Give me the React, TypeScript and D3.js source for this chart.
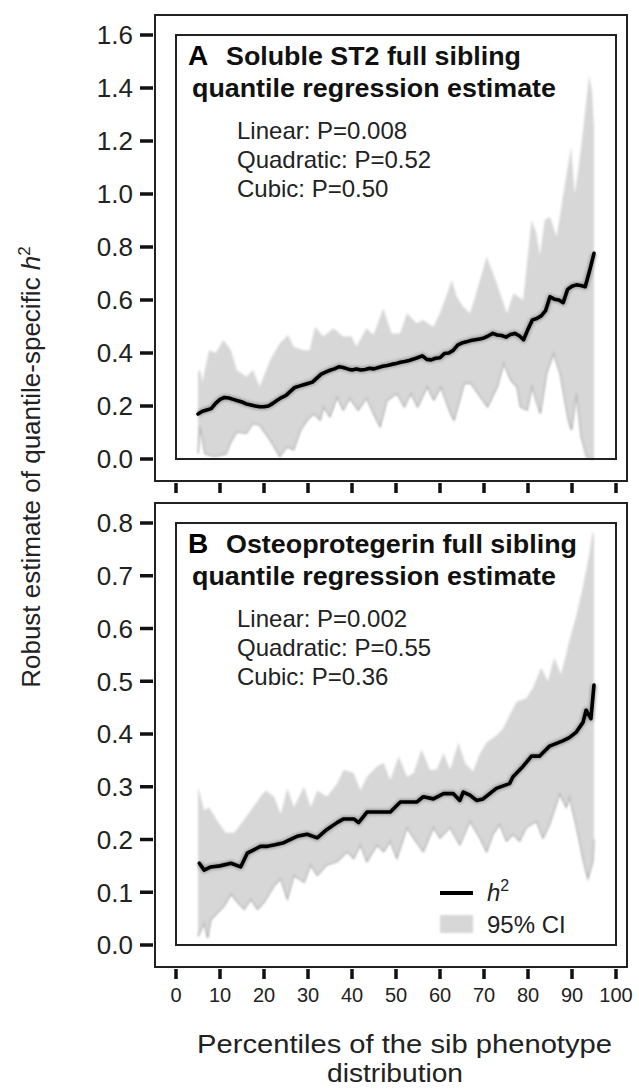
import React, { useEffect, useRef } from 'react';
import * as d3 from 'd3';

type Pt = [number, number];

// Panel A: soluble ST2 (percentile, h2)
const st2H2: Pt[] = [
  [5, 0.17], [6, 0.18], [7, 0.185], [8, 0.19], [9, 0.21], [10, 0.225], [11, 0.232], [12, 0.23],
  [13, 0.225], [14, 0.22], [15, 0.215], [16, 0.208], [17, 0.204], [18, 0.2], [19, 0.197], [20, 0.197],
  [21, 0.2], [22, 0.21], [23, 0.222], [24, 0.232], [25, 0.24], [26, 0.255], [27, 0.27], [28, 0.275],
  [29, 0.28], [30, 0.285], [31, 0.29], [32, 0.305], [33, 0.32], [34, 0.328], [35, 0.335], [36, 0.34],
  [37, 0.348], [38, 0.345], [39, 0.34], [40, 0.336], [41, 0.34], [42, 0.336], [43, 0.338], [44, 0.342],
  [45, 0.34], [46, 0.345], [47, 0.35], [48, 0.353], [49, 0.357], [50, 0.36], [51, 0.365], [52, 0.368],
  [53, 0.372], [54, 0.377], [55, 0.383], [56, 0.389], [57, 0.376], [58, 0.374], [59, 0.38], [60, 0.382],
  [61, 0.398], [62, 0.4], [63, 0.41], [64, 0.43], [65, 0.438], [66, 0.442], [67, 0.447], [68, 0.45],
  [69, 0.453], [70, 0.457], [71, 0.465], [72, 0.474], [73, 0.468], [74, 0.466], [75, 0.46], [76, 0.47],
  [77, 0.474], [78, 0.465], [79, 0.45], [80, 0.49], [81, 0.525], [82, 0.53], [83, 0.54], [84, 0.56],
  [85, 0.612], [86, 0.603], [87, 0.6], [88, 0.59], [89, 0.64], [90, 0.652], [91, 0.657], [92, 0.655],
  [93, 0.65], [94, 0.71], [95, 0.776],
];

const st2Upper: Pt[] = [
  [5, 0.33], [5.5, 0.336], [6, 0.29], [7.5, 0.41], [9, 0.4], [10.8, 0.449], [12.5, 0.41], [13.8, 0.336],
  [16, 0.31], [17.5, 0.336], [19, 0.273], [21.4, 0.374], [23.6, 0.437], [25.5, 0.468], [26.7, 0.424],
  [29, 0.41], [30.4, 0.41], [31.6, 0.499], [33.5, 0.462], [35.8, 0.493], [38, 0.462], [39.9, 0.462],
  [41, 0.424], [43.3, 0.493], [44.9, 0.468], [47.1, 0.568], [49, 0.474], [50.9, 0.474], [52.5, 0.55],
  [54.7, 0.512], [56.2, 0.525], [58.5, 0.499], [60, 0.55], [62.7, 0.675], [63.8, 0.612], [65.3, 0.575],
  [66.8, 0.55], [68, 0.612], [70.6, 0.763], [72.9, 0.663], [75.2, 0.55], [76.7, 0.625], [78.9, 0.6],
  [80.8, 0.902], [81.9, 0.852], [82.7, 0.77], [83.8, 0.902], [85, 0.914], [86.5, 0.839], [88.3, 1.028],
  [89.8, 1.178], [90.6, 1.0], [91.5, 1.1], [92.5, 1.24], [93.9, 1.449], [94.6, 1.38], [95, 1.25],
];

const st2Lower: Pt[] = [
  [5, 0.02], [5.5, 0.122], [6.6, 0.02], [8.5, 0.01], [10.2, 0.015], [11.4, 0.02], [12.3, 0.06],
  [13.8, 0.103], [16, 0.097], [17.5, 0.135], [19, 0.128], [21.4, 0.072], [22.9, 0.03], [23.6, 0.01],
  [25.2, 0.047], [26.7, 0.035], [28.3, 0.109], [29.8, 0.147], [31.3, 0.172], [32.8, 0.147], [33.5, 0.197],
  [35, 0.16], [36.6, 0.235], [38, 0.185], [39.5, 0.23], [41.4, 0.185], [43.3, 0.23], [44.9, 0.172],
  [46.4, 0.122], [47.9, 0.22], [50.2, 0.248], [51.9, 0.197], [53.4, 0.248], [54.9, 0.197], [57.1, 0.273],
  [58.6, 0.223], [60.2, 0.273], [62.4, 0.172], [63.2, 0.147], [65.5, 0.286], [67, 0.286], [69.2, 0.235],
  [70.8, 0.197], [73, 0.273], [74.5, 0.361], [76.1, 0.298], [77.5, 0.273], [78.3, 0.197], [79.8, 0.185],
  [80.9, 0.273], [82.8, 0.172], [84.2, 0.323], [85.8, 0.399], [87.3, 0.323], [89.2, 0.147], [89.9, 0.109],
  [91, 0.248], [92.1, 0.084], [93.3, 0.01], [94.2, 0.0], [95, 0.0],
];

// Panel B: osteoprotegerin
const opgH2: Pt[] = [
  [5.3, 0.155], [6.4, 0.142], [7.9, 0.148], [10, 0.15], [12.5, 0.155], [14.7, 0.148], [16.2, 0.174],
  [19.2, 0.187], [20.8, 0.187], [22.5, 0.19], [24.5, 0.194], [27.5, 0.206], [29.8, 0.21], [32.1, 0.203],
  [34.3, 0.219], [36.6, 0.232], [38.1, 0.239], [40.4, 0.239], [41.5, 0.232], [43.4, 0.252], [46.4, 0.252],
  [48.7, 0.252], [51, 0.271], [54.7, 0.271], [56.2, 0.281], [58.5, 0.277], [60.8, 0.287], [63, 0.287],
  [64.5, 0.274], [65.3, 0.29], [66.8, 0.284], [68.3, 0.274], [69.8, 0.277], [72.8, 0.297], [75.8, 0.306],
  [76.6, 0.319], [78.9, 0.339], [80.8, 0.358], [82.6, 0.358], [84.9, 0.377], [87.9, 0.387], [89.4, 0.393],
  [90.9, 0.403], [92.5, 0.422], [93.2, 0.445], [94.3, 0.429], [95, 0.493],
];

const opgUpper: Pt[] = [
  [5, 0.3], [6.4, 0.255], [7.5, 0.261], [9.4, 0.235], [11.3, 0.213], [13.2, 0.213], [14.7, 0.229],
  [17, 0.255], [19.2, 0.281], [20.4, 0.293], [22.3, 0.281], [23.8, 0.248], [25.3, 0.297], [26.8, 0.261],
  [29.1, 0.3], [30.6, 0.261], [32.1, 0.293], [34.3, 0.281], [36.6, 0.306], [38.1, 0.332], [40.4, 0.326],
  [41.9, 0.293], [43.4, 0.319], [45.7, 0.339], [47.2, 0.345], [48.7, 0.313], [50.6, 0.358], [52.5, 0.319],
  [54, 0.326], [55.8, 0.371], [57.7, 0.332], [59.2, 0.332], [60.8, 0.364], [62.3, 0.332], [64.2, 0.384],
  [65.7, 0.345], [67.5, 0.329], [69.1, 0.364], [70.6, 0.384], [72.8, 0.397], [74.3, 0.41], [75.8, 0.435],
  [77.4, 0.461], [79.6, 0.468], [81.1, 0.487], [83, 0.526], [84.5, 0.5], [86, 0.545], [87.5, 0.513],
  [89.4, 0.577], [90.9, 0.622], [92.5, 0.68], [94, 0.745], [94.7, 0.784], [95, 0.777],
];

const opgLower: Pt[] = [
  [5, 0.016], [6.4, 0.042], [7.2, 0.013], [7.9, 0.048], [9.4, 0.061], [10.9, 0.074], [12.5, 0.097],
  [14, 0.081], [15.5, 0.068], [17, 0.087], [18.5, 0.068], [20, 0.081], [22.3, 0.113], [23.8, 0.126],
  [25.3, 0.087], [26.8, 0.132], [29.1, 0.119], [30.6, 0.152], [32.1, 0.132], [34.3, 0.152], [36.6, 0.158],
  [38.9, 0.177], [40.4, 0.164], [41.9, 0.19], [43.4, 0.158], [45.7, 0.19], [47.2, 0.177], [48.7, 0.197],
  [50.2, 0.164], [52.5, 0.223], [54, 0.203], [56.2, 0.177], [58.5, 0.223], [60, 0.203], [62.3, 0.223],
  [64.5, 0.19], [66.8, 0.235], [69.1, 0.203], [70.6, 0.177], [72, 0.21], [73.6, 0.229], [75.1, 0.197],
  [76.6, 0.21], [78.1, 0.197], [79.6, 0.223], [81.9, 0.235], [83.4, 0.203], [84.9, 0.229], [87.2, 0.287],
  [88.7, 0.261], [89.4, 0.281], [90.9, 0.229], [92.5, 0.164], [93.6, 0.126], [94.7, 0.158], [95, 0.2],
];

const xTicks = [0, 10, 20, 30, 40, 50, 60, 70, 80, 90, 100];
const yTicksA = [0, 0.2, 0.4, 0.6, 0.8, 1.0, 1.2, 1.4, 1.6];
const yTicksB = [0, 0.1, 0.2, 0.3, 0.4, 0.5, 0.6, 0.7, 0.8];

const titleA = ['Soluble ST2 full sibling', 'quantile regression estimate'];
const titleB = ['Osteoprotegerin full sibling', 'quantile regression estimate'];
const statsA = ['Linear: P=0.008', 'Quadratic: P=0.52', 'Cubic: P=0.50'];
const statsB = ['Linear: P=0.002', 'Quadratic: P=0.55', 'Cubic: P=0.36'];

const FONT = '"Liberation Sans", Arial, Helvetica, sans-serif';

const App: React.FC = () => {
  const svgRef = useRef<SVGSVGElement>(null);

  useEffect(() => {
    if (!svgRef.current) return;
    const svg = d3.select(svgRef.current);
    svg.selectAll('*').remove();

    const defs = svg.append('defs');
    defs.append('filter').attr('id', 'soft').attr('x', '-5%').attr('y', '-5%').attr('width', '110%').attr('height', '110%')
      .append('feGaussianBlur').attr('stdDeviation', 1.1);
    defs.append('filter').attr('id', 'glow').attr('x', '-5%').attr('y', '-10%').attr('width', '110%').attr('height', '120%')
      .append('feGaussianBlur').attr('stdDeviation', 1.6);

    const x = d3.scaleLinear().domain([0, 100]).range([176, 616]);

    const drawPanel = (
      y: d3.ScaleLinear<number, number>,
      yTicks: number[],
      fmt: (v: number) => string,
      letter: string,
      title: string[],
      titleLens: number[],
      stats: string[],
      h2: Pt[],
      upper: Pt[],
      lower: Pt[],
      showXLabels: boolean,
      showLegend: boolean,
    ) => {
      const [y0, y1] = y.range();
      const top = y1;
      const bottom = y0;
      const g = svg.append('g');

      // band (upper left->right, lower right->left)
      const poly: Pt[] = [...upper, ...[...lower].reverse()];
      const pathGen = d3.line<Pt>().x(d => x(d[0])).y(d => y(d[1]));
      g.append('path')
        .attr('d', pathGen(poly)! + 'Z')
        .attr('fill', '#d7d7d7')
        .attr('filter', 'url(#soft)');
      g.append('path')
        .attr('d', pathGen(lower)!)
        .attr('fill', 'none')
        .attr('stroke', '#b4b4b4')
        .attr('stroke-width', 1.4)
        .attr('filter', 'url(#soft)');

      // h2 line
      g.append('path')
        .attr('d', pathGen(h2)!)
        .attr('fill', 'none')
        .attr('stroke', '#555')
        .attr('stroke-width', 6)
        .attr('opacity', 0.45)
        .attr('stroke-linejoin', 'round')
        .attr('filter', 'url(#glow)');
      g.append('path')
        .attr('d', pathGen(h2)!)
        .attr('fill', 'none')
        .attr('stroke', '#000')
        .attr('stroke-width', 3.6)
        .attr('stroke-linejoin', 'round')
        .attr('stroke-linecap', 'round');

      // inner frame
      g.append('rect')
        .attr('x', x(0)).attr('y', top)
        .attr('width', x(100) - x(0)).attr('height', bottom - top)
        .attr('fill', 'none').attr('stroke', '#222').attr('stroke-width', 2);

      // outer frame
      g.append('rect')
        .attr('x', 155).attr('y', top - 20)
        .attr('width', 627 - 155).attr('height', bottom - top + 42)
        .attr('fill', 'none').attr('stroke', '#222').attr('stroke-width', 2);

      // y ticks
      yTicks.forEach(t => {
        g.append('line')
          .attr('x1', 140).attr('x2', 153)
          .attr('y1', y(t)).attr('y2', y(t))
          .attr('stroke', '#111').attr('stroke-width', 3.5);
        g.append('text')
          .attr('x', 133).attr('y', y(t)).attr('dy', '0.36em')
          .attr('text-anchor', 'end')
          .style('font-family', FONT).style('font-size', '26px')
          .attr('fill', '#222')
          .text(fmt(t));
      });

      // x ticks
      const tickTop = bottom + 24;
      xTicks.forEach(t => {
        g.append('line')
          .attr('x1', x(t)).attr('x2', x(t))
          .attr('y1', tickTop).attr('y2', tickTop + 10)
          .attr('stroke', '#111').attr('stroke-width', 3.5);
        if (showXLabels) {
          g.append('text')
            .attr('x', x(t)).attr('y', tickTop + 33)
            .attr('text-anchor', 'middle')
            .style('font-family', FONT).style('font-size', '20px')
            .attr('fill', '#222')
            .text(t);
        }
      });

      // titles
      g.append('text')
        .attr('x', 188).attr('y', top + 30)
        .style('font-family', FONT).style('font-size', '28px').style('font-weight', 'bold')
        .attr('fill', '#000')
        .text(letter);
      g.append('text')
        .attr('x', 226).attr('y', top + 30)
        .attr('textLength', titleLens[0]).attr('lengthAdjust', 'spacingAndGlyphs')
        .style('font-family', FONT).style('font-size', '25px').style('font-weight', 'bold')
        .attr('fill', '#111')
        .text(title[0]);
      g.append('text')
        .attr('x', 192).attr('y', top + 62)
        .attr('textLength', titleLens[1]).attr('lengthAdjust', 'spacingAndGlyphs')
        .style('font-family', FONT).style('font-size', '25px').style('font-weight', 'bold')
        .attr('fill', '#111')
        .text(title[1]);

      stats.forEach((s, i) => {
        g.append('text')
          .attr('x', 237).attr('y', top + 104 + i * 29)
          .style('font-family', FONT).style('font-size', '24px')
          .attr('fill', '#222')
          .text(s);
      });

      if (showLegend) {
        g.append('line')
          .attr('x1', 440).attr('x2', 473).attr('y1', 893).attr('y2', 893)
          .attr('stroke', '#000').attr('stroke-width', 4);
        const t1 = g.append('text')
          .attr('x', 487).attr('y', 901)
          .style('font-family', FONT).style('font-size', '24px')
          .attr('fill', '#222');
        t1.append('tspan').style('font-style', 'italic').text('h');
        t1.append('tspan').attr('dy', -10).style('font-size', '16px').text('2');
        g.append('rect')
          .attr('x', 440).attr('y', 915).attr('width', 33).attr('height', 18)
          .attr('fill', '#d7d7d7').attr('filter', 'url(#soft)');
        g.append('text')
          .attr('x', 487).attr('y', 933)
          .style('font-family', FONT).style('font-size', '24px')
          .attr('fill', '#222')
          .text('95% CI');
      }
    };

    const yA = d3.scaleLinear().domain([0, 1.6]).range([459, 35]);
    const yB = d3.scaleLinear().domain([0, 0.8]).range([945, 523]);

    drawPanel(yA, yTicksA, d3.format('.1f'), 'A', titleA, [295, 364], statsA, st2H2, st2Upper, st2Lower, false, false);
    drawPanel(yB, yTicksB, d3.format('.1f'), 'B', titleB, [351, 364], statsB, opgH2, opgUpper, opgLower, true, true);

    // y-axis title
    const yt = svg.append('text')
      .attr('transform', 'translate(40,467) rotate(-90)')
      .attr('text-anchor', 'middle')
      .style('font-family', FONT).style('font-size', '26px')
      .attr('fill', '#222');
    yt.append('tspan').text('Robust estimate of quantile-specific ');
    yt.append('tspan').style('font-style', 'italic').text('h');
    yt.append('tspan').attr('dy', -10).style('font-size', '17px').text('2');

    // x-axis title
    svg.append('text')
      .attr('x', 197).attr('y', 1053)
      .attr('textLength', 415).attr('lengthAdjust', 'spacingAndGlyphs')
      .style('font-family', FONT).style('font-size', '26px')
      .attr('fill', '#222')
      .text('Percentiles of the sib phenotype');
    svg.append('text')
      .attr('x', 327).attr('y', 1082)
      .attr('textLength', 136).attr('lengthAdjust', 'spacingAndGlyphs')
      .style('font-family', FONT).style('font-size', '25px')
      .attr('fill', '#222')
      .text('distribution');
  }, []);

  return (
    <div style={{ position: 'absolute', left: 0, top: 0, background: '#fff' }}>
      <svg ref={svgRef} width={639} height={1090} style={{ display: 'block' }} />
    </div>
  );
};

export default App;
